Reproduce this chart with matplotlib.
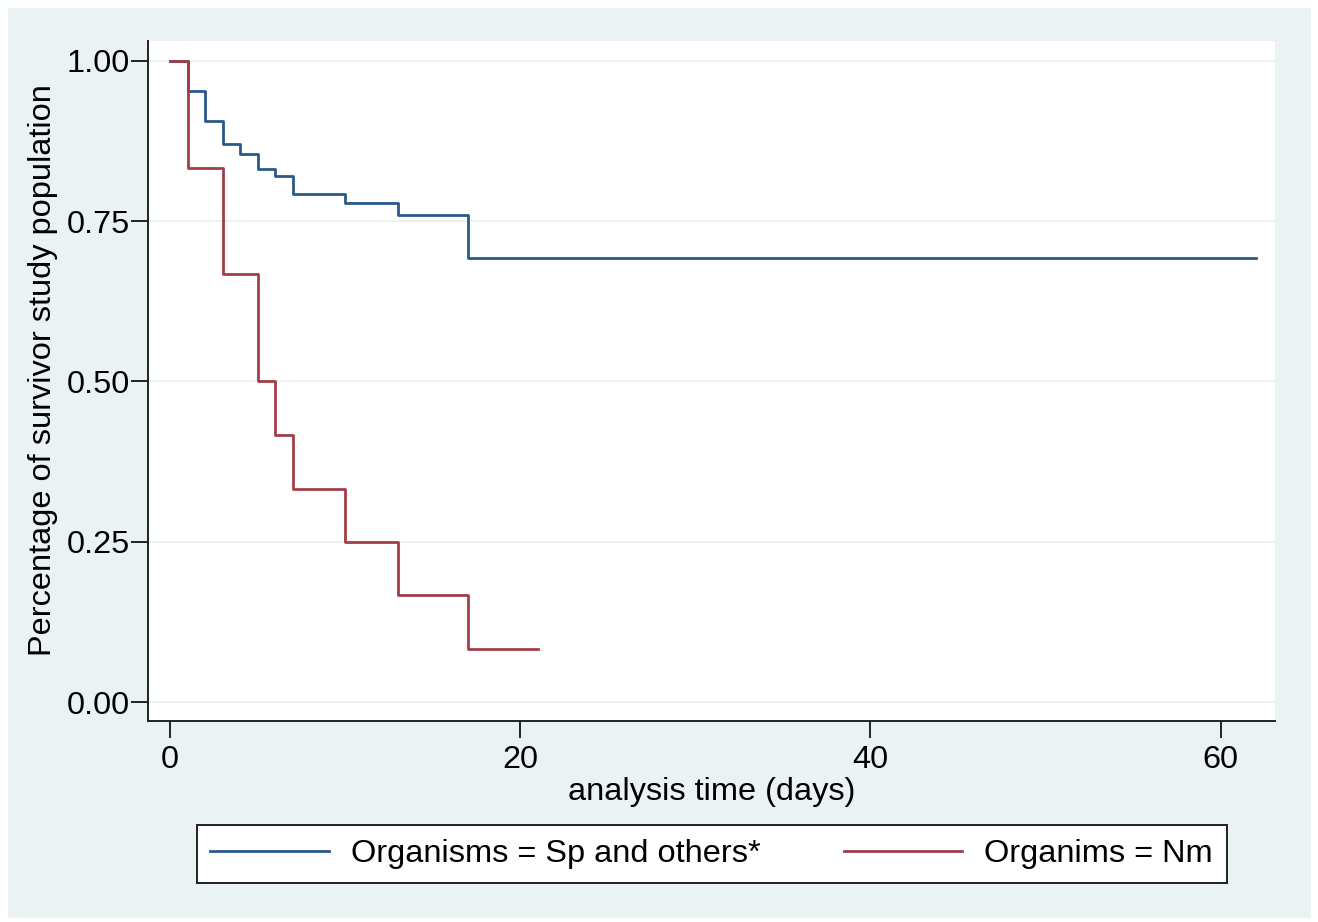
import matplotlib
matplotlib.use('Agg')
import matplotlib.pyplot as plt
from matplotlib.patches import Rectangle

plt.rcParams['font.family'] = ['Liberation Sans', 'DejaVu Sans']

# Kaplan-Meier estimates
sp_time = [0, 1, 2, 3, 4, 5, 6, 7, 10, 13, 17, 62]
sp_surv = [1.0, 0.953, 0.906, 0.870, 0.855, 0.832, 0.820, 0.792, 0.778, 0.760, 0.692, 0.692]
nm_time = [0, 1, 3, 5, 6, 7, 10, 13, 17, 21]
nm_surv = [1.0, 0.833, 0.667, 0.500, 0.417, 0.333, 0.250, 0.167, 0.083, 0.083]
labels = ["Organisms = Sp and others*", "Organims = Nm"]
xticks = [0, 20, 40, 60]
yticks = [0.0, 0.25, 0.5, 0.75, 1.0]

W, H = 1318, 922
fs = 23.4
fig = plt.figure(figsize=(W / 100, H / 100), dpi=100)
fig.patch.set_facecolor('white')
fig.patches.append(Rectangle((8 / W, 4 / H), 1303 / W, 910 / H, transform=fig.transFigure,
                             facecolor='#EAF2F3', edgecolor='none', zorder=-10))

ax = fig.add_axes([148 / W, 1 - 721 / H, (1275 - 148) / W, (721 - 41) / H])
ax.set_facecolor('white')

l1, = ax.step(sp_time, sp_surv, where='post', color='#2A5A89', lw=2, label=labels[0])
l2, = ax.step(nm_time, nm_surv, where='post', color='#A03F46', lw=2, label=labels[1])

ax.set_xlim(-1.26, 63.1)
ax.set_ylim(-0.0296, 1.031)
ax.set_xticks(xticks)
ax.set_yticks(yticks)
ax.set_yticklabels(["%.2f" % v for v in yticks])
ax.tick_params(labelsize=fs, length=12, width=1.4, color='#222222', direction='out')
ax.tick_params(axis='x', pad=5)
ax.tick_params(axis='y', pad=1)
ax.yaxis.grid(True, color='#EAF2F3', lw=1.5)
ax.set_axisbelow(True)
for s in ['top', 'right']:
    ax.spines[s].set_visible(False)
for s in ['left', 'bottom']:
    ax.spines[s].set_linewidth(1.4)
    ax.spines[s].set_color('#222222')

ax.set_xlabel("analysis time (days)", fontsize=fs, labelpad=2)
ax.set_ylabel("Percentage of survivor study population", fontsize=fs, labelpad=6)
ax.yaxis.label.set_y(0.516)

lgd = fig.legend([l1, l2], labels, loc='center', bbox_to_anchor=(711.5 / W, 1 - 854 / H),
                 ncol=2, fontsize=fs, frameon=True, fancybox=False, framealpha=1,
                 handlelength=3.65, handletextpad=0.68, columnspacing=2.55,
                 borderpad=0.42, borderaxespad=0)
lgd.get_frame().set_edgecolor('#222222')
lgd.get_frame().set_linewidth(1.4)

fig.savefig('out.png', dpi=100)
